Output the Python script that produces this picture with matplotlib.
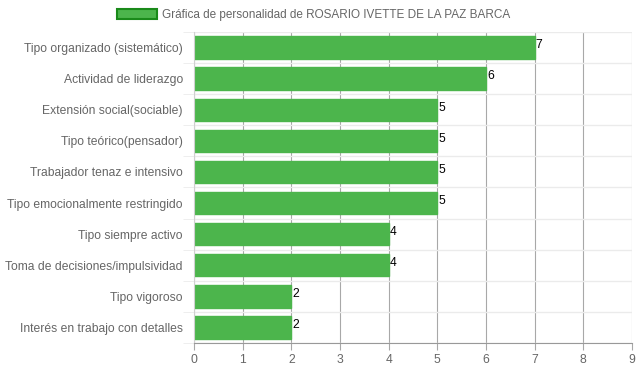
import matplotlib.pyplot as plt
from matplotlib.patches import Patch

# 数据
categorias = ['Tipo organizado (sistemático)', 'Actividad de liderazgo',
              'Extensión social(sociable)', 'Tipo teórico(pensador)',
              'Trabajador tenaz e intensivo', 'Tipo emocionalmente restringido',
              'Tipo siempre activo', 'Toma de decisiones/impulsividad',
              'Tipo vigoroso', 'Interés en trabajo con detalles']
valores = [7, 6, 5, 5, 5, 5, 4, 4, 2, 2]
titulo = 'Gráfica de personalidad de ROSARIO IVETTE DE LA PAZ BARCA'

plt.rcParams['font.family'] = ['Liberation Sans', 'DejaVu Sans']

fig = plt.figure(figsize=(6.39, 3.72), dpi=100)
ax = fig.add_axes([0.3036, 0.078, 0.989 - 0.3036, 0.836])

y = list(range(len(categorias)))
ax.barh(y, valores, height=0.72, color='#4cb54c', edgecolor='#4cb54c', zorder=2)

# etiquetas de valor
for yi, v in zip(y, valores):
    ax.text(v + 0.02, yi - 0.07, str(v), ha='left', va='center', fontsize=8.7, color='black')

ax.set_xlim(0, 9)
ax.set_ylim(len(categorias) - 0.5, -0.5)
ax.set_xticks(range(10))
ax.set_yticks(y)
ax.set_yticklabels(categorias)

# cuadrícula
ax.set_yticks([i + 0.5 for i in range(-1, len(categorias))], minor=True)
ax.grid(axis='x', color='#a8a8a8', linewidth=0.8, zorder=1)
ax.grid(axis='y', which='minor', color='#ebebeb', linewidth=1, zorder=1)
ax.tick_params(axis='y', which='major', length=0, pad=8, labelsize=8.7, labelcolor='#666666')
ax.tick_params(axis='y', which='minor', length=8, color='#ebebeb')
ax.tick_params(axis='x', length=5, color='#a8a8a8', labelsize=8.7, labelcolor='#666666', pad=3)

for s in ['top', 'right']:
    ax.spines[s].set_visible(False)
ax.spines['left'].set_color('#d0d0d0')
ax.spines['bottom'].set_color('#999999')

# leyenda
h = Patch(facecolor='#4cb54c', edgecolor='#1a8a1a', linewidth=1.5)
fig.legend([h], [titulo], loc='center', bbox_to_anchor=(0.491, 0.96), frameon=False,
           fontsize=8.5, handlelength=3.4, handleheight=0.9, handletextpad=0.4,
           labelcolor='#666666')

fig.savefig('out.png', dpi=100)
